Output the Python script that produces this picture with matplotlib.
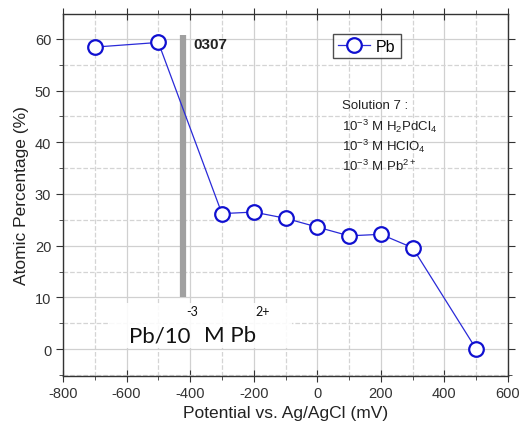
import matplotlib
matplotlib.use("Agg")
import matplotlib.pyplot as plt
from matplotlib.ticker import MultipleLocator

plt.rcParams['font.family'] = ['Liberation Sans', 'DejaVu Sans']
plt.rcParams['mathtext.fontset'] = 'custom'
plt.rcParams['mathtext.rm'] = 'Liberation Sans'
plt.rcParams['mathtext.it'] = 'Liberation Sans:italic'
plt.rcParams['mathtext.bf'] = 'Liberation Sans:bold'
plt.rcParams['axes.unicode_minus'] = False

# data
potential = [-700, -500, -300, -200, -100, 0, 100, 200, 300, 500]
pb_percent = [58.4, 59.3, 26.2, 26.5, 25.3, 23.6, 21.9, 22.2, 19.6, 0.0]
xticks = [-800, -600, -400, -200, 0, 200, 400, 600]
yticks = [0, 10, 20, 30, 40, 50, 60]
solution_lines = ["Solution 7 :",
                  r"10$^{-3}$ M H$_2$PdCl$_4$",
                  r"10$^{-3}$ M HClO$_4$",
                  r"10$^{-3}$ M Pb$^{2+}$"]

fig = plt.figure(figsize=(5.22, 4.35), dpi=100)
ax = fig.add_axes([63/522, 1-377/435, 445/522, 362/435])

ax.set_xlim(-800, 600)
ax.set_ylim(-5.2, 64.8)
ax.set_xticks(xticks)
ax.set_yticks(yticks)
ax.xaxis.set_minor_locator(MultipleLocator(100))
ax.yaxis.set_minor_locator(MultipleLocator(5))

# grid: solid major, dashed minor
ax.grid(which='major', color='#d0d0d0', lw=0.9, ls='-', zorder=0)
ax.grid(which='minor', color='#d4d4d4', lw=0.9, ls='--', zorder=0)
ax.set_axisbelow(True)

ax.tick_params(which='both', top=True, right=True, labelsize=10.5, color='#333333',
               labelcolor='#333333')
ax.tick_params(which='major', length=5)
ax.tick_params(which='minor', length=3)
ax.tick_params(axis='x', which='major', direction='inout', length=8)
for s in ax.spines.values():
    s.set_color('#333333')
    s.set_linewidth(1.0)

# gray marker bar
ax.plot([-422, -422], [10.0, 60.8], color='#a0a0a0', lw=4.5, solid_capstyle='butt', zorder=2)
ax.text(-389, 59.0, "0307", fontsize=11, fontweight='bold', color='#222222',
        va='center', zorder=3)

ax.plot(potential, pb_percent, color='#2a2ad8', lw=0.9, marker='o', ms=10.5,
        mfc='white', mec='#1010d0', mew=1.6, label='Pb', zorder=4)

leg = ax.legend(loc='upper left', bbox_to_anchor=(0.607, 0.945), fontsize=11.5,
                frameon=True, fancybox=False, edgecolor='#222222', handlelength=2.0,
                handletextpad=0.4, borderpad=0.3, borderaxespad=0)
leg.get_frame().set_linewidth(1.0)

for i, line in enumerate(solution_lines):
    ax.text(78, 47.2 - i * 3.87, line, fontsize=9.5, color='#222222', va='center', zorder=3)

# label box at the bottom
ax.fill_between([-652, -80], 0.2, 9.0, color='white', alpha=0.88, lw=0, zorder=3)
ax.text(-592, 1.5, "Pb/10", fontsize=16, fontfamily='Lato', color='#111111', zorder=5)
ax.text(-413, 6.6, "-3", fontsize=9, fontfamily='Lato', color='#111111', zorder=5)
ax.text(-355, 1.5, "M Pb", fontsize=16, fontfamily='Lato', color='#111111', zorder=5)
ax.text(-196, 6.6, "2+", fontsize=9, fontfamily='Lato', color='#111111', zorder=5)

ax.set_xlabel("Potential vs. Ag/AgCl (mV)", fontsize=12.5, color='#222222', labelpad=3)
ax.set_ylabel("Atomic Percentage (%)", fontsize=12.5, color='#222222', labelpad=4)

fig.savefig("out.png", dpi=100)
